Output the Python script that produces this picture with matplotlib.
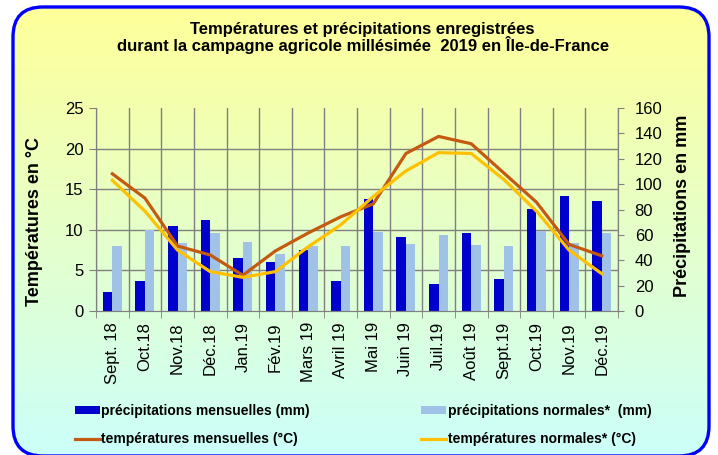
import numpy as np
import matplotlib
matplotlib.use("Agg")
from matplotlib import pyplot as plt
from matplotlib.patches import FancyBboxPatch

months = ["Sept. 18", "Oct.18", "Nov.18", "Déc.18", "Jan.19", "Fév.19", "Mars 19", "Avril 19",
          "Mai 19", "Juin 19", "Juil.19", "Août 19", "Sept.19", "Oct.19", "Nov.19", "Déc.19"]
precip_month = [14.7, 23.7, 66.8, 72.1, 42.1, 38.4, 48.4, 23.7,
                88.4, 58.7, 21.1, 61.6, 25.3, 80.7, 90.6, 87.0]
precip_normal = [51.3, 64.0, 53.7, 61.8, 54.7, 45.0, 51.6, 51.3,
                 62.6, 52.5, 60.0, 51.7, 50.9, 63.4, 53.3, 61.6]
temp_month = [16.9, 13.9, 8.0, 6.9, 4.4, 7.4, 9.6, 11.6,
              13.2, 19.4, 21.5, 20.6, 17.0, 13.4, 8.2, 6.8]
temp_normal = [16.1, 12.3, 7.5, 4.85, 4.15, 4.85, 7.9, 10.6,
               14.1, 17.25, 19.5, 19.4, 16.2, 12.3, 7.5, 4.6]

title = "Températures et précipitations enregistrées\ndurant la campagne agricole millésimée  2019 en Île-de-France"

plt.rcParams['font.family'] = ["Liberation Sans", "DejaVu Sans"]

W, H = 718, 455
fig = plt.figure(figsize=(W / 100, H / 100), dpi=100)

# background: rounded box with yellow -> cyan gradient
bg = fig.add_axes([0, 0, 1, 1])
bg.set_xlim(0, W)
bg.set_ylim(H, 0)
bg.axis("off")
top = np.array([255, 255, 153]) / 255
bottom = np.array([204, 255, 250]) / 255
t = np.linspace(0, 1, 256)[:, None]
grad = top[None, :] * (1 - t) + bottom[None, :] * t
grad = np.repeat(grad[:, None, :], 2, axis=1)
box = FancyBboxPatch((13, 7), 696, 449, boxstyle="round,pad=0,rounding_size=30",
                     fc="none", ec="#0000FF", lw=2.4, zorder=3)
bg.add_patch(box)
im = bg.imshow(grad, extent=(13, 709, 456, 7), aspect="auto", zorder=1)
im.set_clip_path(box)

fig.text(0.505, 1 - 38 / H, title, ha="center", va="center", fontsize=12,
         fontweight="bold", linespacing=0.95)

# precipitation axis (bars, right side)
ax = fig.add_axes([96 / W, 1 - 311 / H, 522 / W, 203 / H])
ax.patch.set_alpha(0)
x = np.arange(len(months))
b1 = ax.bar(x - 0.145, precip_month, width=0.29, color="#0000CC", zorder=2,
            label="précipitations mensuelles (mm)")
b2 = ax.bar(x + 0.145, precip_normal, width=0.29, color="#A0C2E6", zorder=2,
            label="précipitations normales*  (mm)")

# temperature axis (lines, left side)
ax2 = ax.twinx()
ax2.yaxis.tick_left()
ax2.yaxis.set_label_position("left")
ax.yaxis.tick_right()
ax.yaxis.set_label_position("right")

ax.set_ylim(0, 160)
ax.set_yticks(range(0, 161, 20))
ax.set_yticks(np.linspace(0, 160, 6), minor=True)
ax.tick_params(axis="y", which="minor", length=0)
ax.grid(axis="y", which="minor", color="#808080", lw=1, zorder=0)
ax.set_ylabel("Précipitations en mm", fontsize=13, fontweight="bold")
ax.yaxis.set_label_coords(1.107, 0.517)
ax.set_xlim(-0.5, len(months) - 0.5)
ax.set_xticks(x)
ax.set_xticklabels(months, rotation=90, fontsize=12)
ax.set_xticks(np.arange(-0.5, len(months), 1), minor=True)
ax.tick_params(axis="x", which="major", length=0, pad=8)
ax.tick_params(axis="x", which="minor", length=5, color="#808080")
ax.tick_params(axis="y", which="major", labelsize=12, length=4, color="#808080", pad=8)
ax.grid(axis="x", which="minor", color="#808080", lw=1, zorder=0)
ax.set_axisbelow(True)
for s in ax.spines.values():
    s.set_color("#808080")
ax.spines["top"].set_visible(False)

ax2.set_ylim(0, 25)
ax2.set_yticks(range(0, 26, 5))
l1, = ax2.plot(x, temp_month, color="#C45A12", lw=2.3, zorder=3,
               label="températures mensuelles (°C)")
l2, = ax2.plot(x, temp_normal, color="#FFC000", lw=2.3, zorder=3,
               label="températures normales* (°C)")
ax2.set_ylabel("Températures en °C", fontsize=13, fontweight="bold")
ax2.yaxis.set_label_coords(-0.1015, 0.443)
ax2.tick_params(axis="y", labelsize=12, length=5, color="#808080", pad=4)
for s in ax2.spines.values():
    s.set_color("#808080")
ax2.spines["top"].set_visible(False)

leg = fig.legend([b1, l1, b2, l2],
                 [b1.get_label(), l1.get_label(), b2.get_label(), l2.get_label()],
                 ncol=2, loc="upper left", bbox_to_anchor=(62 / W, 1 - 391 / H),
                 frameon=False, handlelength=1.8, handleheight=0.5, handletextpad=0.1,
                 columnspacing=8.05, labelspacing=1.05,
                 prop={"weight": "bold", "size": 10})

fig.savefig("out.png", dpi=100)
